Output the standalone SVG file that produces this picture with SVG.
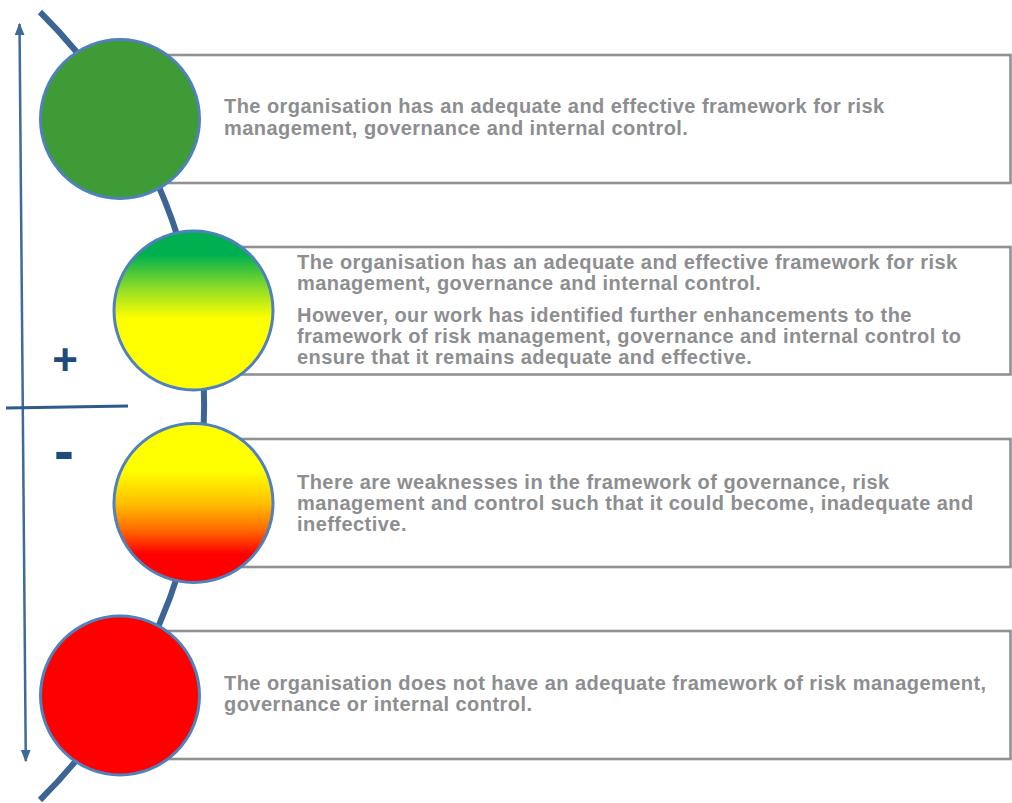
<svg xmlns="http://www.w3.org/2000/svg" width="1012" height="803" viewBox="0 0 1012 803">
<defs>
<style>
.box{fill:#ffffff;stroke:#8F9193;stroke-width:2.6}
.circ{stroke:#4F81BD;stroke-width:3}
.txt{font-family:"Liberation Sans",Arial,sans-serif;font-weight:bold;font-size:20px;letter-spacing:0.45px;fill:#8C8E90}
.sign{font-family:"Liberation Sans",Arial,sans-serif;font-weight:bold;fill:#1F4A7C;text-anchor:middle}
</style>
<linearGradient id="g2" x1="0" y1="0" x2="0" y2="1">
<stop offset="0" stop-color="#00B050"/>
<stop offset="0.15" stop-color="#00B050"/>
<stop offset="0.38" stop-color="#9BE022"/>
<stop offset="0.55" stop-color="#FFFF00"/>
<stop offset="1" stop-color="#FFFF00"/>
</linearGradient>
<linearGradient id="g3" x1="0" y1="0" x2="0" y2="1">
<stop offset="0" stop-color="#FFFF00"/>
<stop offset="0.3" stop-color="#FFFF00"/>
<stop offset="0.5" stop-color="#FFC000"/>
<stop offset="0.66" stop-color="#FF7000"/>
<stop offset="0.82" stop-color="#FF0000"/>
<stop offset="1" stop-color="#FF0000"/>
</linearGradient>
<marker id="ah" viewBox="0 0 10 10" refX="9" refY="5" markerWidth="5" markerHeight="5" orient="auto-start-reverse" markerUnits="strokeWidth">
<path d="M0,1 L10,5 L0,9 Z" fill="#3F6A9A"/>
</marker>
</defs>

<g id="connectors">
<path d="M 40 12 A 555 555 0 0 1 40 800" fill="none" stroke="#3C6494" stroke-width="6"/>
<line x1="19.5" y1="24" x2="25.8" y2="761" stroke="#3F6A9A" stroke-width="2.5" marker-start="url(#ah)" marker-end="url(#ah)"/>
<line x1="6" y1="408" x2="128" y2="406" stroke="#2E5A8C" stroke-width="3"/>
</g>

<g id="node1">
<rect class="box" x="150" y="55" width="860.5" height="128"/>
<circle class="circ" cx="120" cy="119" r="79.5" fill="#3E9B35"/>
<text class="txt" x="224" y="113">The organisation has an adequate and effective framework for risk</text>
<text class="txt" x="224" y="135">management, governance and internal control.</text>
</g>

<g id="node2">
<rect class="box" x="220" y="247" width="790.5" height="127.5"/>
<circle class="circ" cx="193.5" cy="310.5" r="79.5" fill="url(#g2)"/>
<text class="txt" x="297" y="269">The organisation has an adequate and effective framework for risk</text>
<text class="txt" x="297" y="290">management, governance and internal control.</text>
<text class="txt" x="297" y="322">However, our work has identified further enhancements to the</text>
<text class="txt" x="297" y="343">framework of risk management, governance and internal control to</text>
<text class="txt" x="297" y="364">ensure that it remains adequate and effective.</text>
</g>

<g id="node3">
<rect class="box" x="220" y="439" width="790.5" height="128"/>
<circle class="circ" cx="193.5" cy="503" r="79.5" fill="url(#g3)"/>
<text class="txt" x="297" y="489">There are weaknesses in the framework of governance, risk</text>
<text class="txt" x="297" y="510">management and control such that it could become, inadequate and</text>
<text class="txt" x="297" y="531">ineffective.</text>
</g>

<g id="node4">
<rect class="box" x="150" y="631" width="860.5" height="128"/>
<circle class="circ" cx="120" cy="695.5" r="79.5" fill="#FF0000"/>
<text class="txt" x="224" y="690">The organisation does not have an adequate framework of risk management,</text>
<text class="txt" x="224" y="711">governance or internal control.</text>
</g>

<g id="signs">
<text class="sign" x="65" y="375" font-size="44">+</text>
<text class="sign" x="64" y="471" font-size="60">-</text>
</g>
</svg>
